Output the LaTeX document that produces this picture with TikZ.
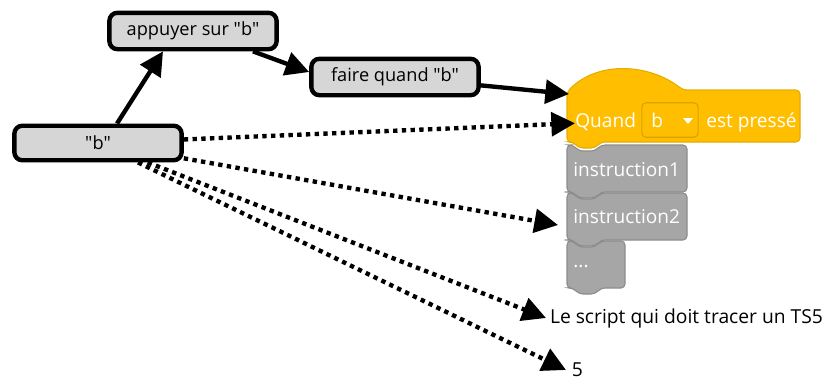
\documentclass[tikz,border=0pt]{standalone}
\usepackage{fontspec}
\setmainfont{Open Sans}[Ligatures=TeXOff]
\usetikzlibrary{arrows.meta,positioning,calc}
\definecolor{mapfill}{HTML}{D6D6D6}
\definecolor{eventorange}{HTML}{FFBF00}
\definecolor{eventborder}{HTML}{E6AC00}
\definecolor{keyborder}{HTML}{D9A200}
\definecolor{stackgray}{HTML}{A6A6A6}
\definecolor{stackborder}{HTML}{8C8C8C}
% one Scratch command block: x, y, width, height (in px units)
\newcommand{\stackblock}[4]{%
  \draw[stackshape] (#1,#2) -- (#1+6,#2) -- (#1+12,#2+6) -- (#1+28,#2+6) -- (#1+34,#2)
    -- (#1+#3,#2) -- (#1+#3,#2+#4) -- (#1+34,#2+#4) -- (#1+28,#2+#4+6)
    -- (#1+12,#2+#4+6) -- (#1+6,#2+#4) -- (#1,#2+#4) -- cycle;}
\tikzset{
  mapnode/.style={
    rectangle,
    rounded corners=4.4pt,
    draw=black,
    line width=2.4pt,
    fill=mapfill,
    minimum width=92pt,
    minimum height=20pt,
    font=\fontsize{10}{12}\selectfont
  },
  link/.style={-{Triangle[length=13pt,width=13pt]}, line width=2.4pt},
  dotlink/.style={link, dash pattern=on 2.4pt off 2.4pt},
  stackshape/.style={draw=stackborder, fill=stackgray, line width=0.6pt, rounded corners=2.2pt},
  hatshape/.style={draw=eventborder, fill=eventorange, line width=0.6pt, rounded corners=2.2pt},
  blocktext/.style={text=white, font=\fontsize{10.5}{12}\selectfont, inner sep=0pt, anchor=west},
  keybox/.style={
    draw=keyborder,
    fill=eventorange,
    rounded corners=2.5pt,
    line width=0.6pt,
    minimum width=31pt,
    minimum height=19pt,
    inner sep=0pt,
    text=white,
    font=\fontsize{10.5}{12}\selectfont
  },
  plainlabel/.style={anchor=west, inner sep=2pt, font=\fontsize{10.6}{12}\selectfont}
}
\begin{document}
\begin{tikzpicture}[x=0.55pt, y=-0.55pt]
  \useasboundingbox (0,0) rectangle (826,381);

  % mind map nodes
  \node[mapnode, minimum height=19pt] (b) at (98,143) {"b"};
  \node[mapnode] (appuyer) at (193,31) {appuyer sur "b"};
  \node[mapnode] (faire) at (395,77) {faire quand "b"};

  % the Scratch script
  \stackblock{567}{241}{58}{47}
  \stackblock{567}{193}{120}{47}
  \stackblock{567}{145}{120}{47}
  \draw[hatshape] (567,142) -- (567,92) .. controls (598,60) and (650,64) .. (683,90)
    -- (800,90) -- (800,142) -- (601,142) -- (595,148) -- (579,148) -- (573,142) -- cycle;
  \coordinate (hattop) at (569,94);

  \node[blocktext] (quand) at (575,122) {Quand};
  \node[keybox] (key) at (670,120) {b\kern14pt};
  \fill[white] (683,118) -- (693,118) -- (688,124) -- cycle;
  \node[blocktext] (presse) at (706,122) {est pressé};
  \node[blocktext] (instr1) at (573,170) {instruction1};
  \node[blocktext] (instr2) at (573,217) {instruction2};
  \node[blocktext] (dots) at (573,267) {...};

  \node[plainlabel] (script) at (546,318) {Le script qui doit tracer un TS5};
  \node[plainlabel, inner sep=3pt] (five) at (566,370) {5};

  \draw[link] ($(b.north)+(19,0)$) -- ($(appuyer.south)+(-30,0)$);
  \draw[link] ($(appuyer.south)+(60,0)$) -- ($(faire.west)+(0,-5)$);
  \draw[link] (faire) -- (hattop);

  \draw[dotlink] (b) -- (quand);
  \draw[dotlink] (b) -- ($(instr2.west)+(-15,8)$);
  \draw[dotlink] (b) -- (script.west);
  \draw[dotlink] (b) -- (five.west);
\end{tikzpicture}
\end{document}
